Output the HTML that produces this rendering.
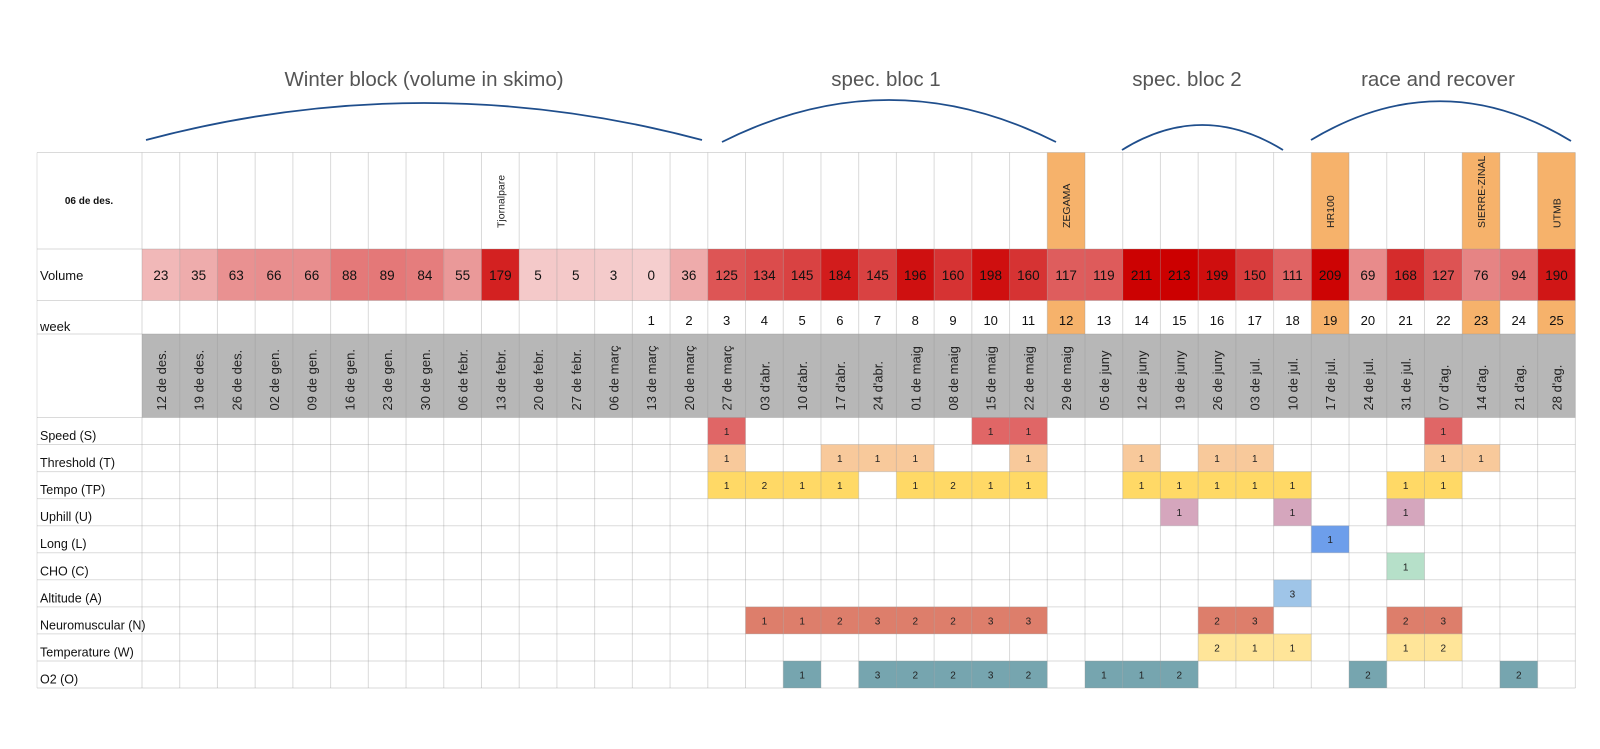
<!DOCTYPE html>
<html><head><meta charset="utf-8"><style>
body{margin:0;background:#fff;width:1600px;height:749px;overflow:hidden}
svg{display:block;font-family:"Liberation Sans",Arial,sans-serif}
</style></head><body>
<svg id="chart" width="1600" height="749" viewBox="0 0 1600 749" xmlns="http://www.w3.org/2000/svg">
<rect width="1600" height="749" fill="#fff"/>
<g id="titles" fill="#555" font-size="20.5" text-anchor="middle">
<text x="424" y="86">Winter block (volume in skimo)</text>
<text x="886" y="86">spec. bloc 1</text>
<text x="1187" y="86">spec. bloc 2</text>
<text x="1438" y="86">race and recover</text>
</g>
<g fill="none" stroke="#1f4e8c" stroke-width="1.8">
<path d="M146,140 Q424,66 702,140"/>
<path d="M722,142 Q889,58 1056,142"/>
<path d="M1122,150 Q1202,100 1283,150"/>
<path d="M1311,140 Q1441,62 1571,141"/>
</g>
<g id="grid"></g>
</svg>
<script>
const dates=["12 de des.","19 de des.","26 de des.","02 de gen.","09 de gen.","16 de gen.","23 de gen.","30 de gen.","06 de febr.","13 de febr.","20 de febr.","27 de febr.","06 de març","13 de març","20 de març","27 de març","03 d'abr.","10 d'abr.","17 d'abr.","24 d'abr.","01 de maig","08 de maig","15 de maig","22 de maig","29 de maig","05 de juny","12 de juny","19 de juny","26 de juny","03 de jul.","10 de jul.","17 de jul.","24 de jul.","31 de jul.","07 d'ag.","14 d'ag.","21 d'ag.","28 d'ag."];
const volume=[23,35,63,66,66,88,89,84,55,179,5,5,3,0,36,125,134,145,184,145,196,160,198,160,117,119,211,213,199,150,111,209,69,168,127,76,94,190];
const weeks=["","","","","","","","","","","","","","1","2","3","4","5","6","7","8","9","10","11","12","13","14","15","16","17","18","19","20","21","22","23","24","25"];
const races={9:"Tjornalpare",24:"ZEGAMA",31:"HR100",35:"SIERRE-ZINAL",37:"UTMB"};
const raceHighlight=[24,31,35,37];
const actLabels=["Speed (S)","Threshold (T)","Tempo (TP)","Uphill (U)","Long (L)","CHO (C)","Altitude (A)","Neuromuscular (N)","Temperature (W)","O2 (O)"];
const actColors=["#e06666","#f8c99b","#ffd966","#d5a6bd","#6d9eeb","#b6e0c9","#9fc5e8","#dd7e6b","#ffe599","#76a5af"];
const speed={15:1,22:1,23:1,34:1};
const threshold={15:1,18:1,19:1,20:1,23:1,26:1,28:1,29:1,34:1,35:1};
const tempo={15:1,16:2,17:1,18:1,20:1,21:2,22:1,23:1,26:1,27:1,28:1,29:1,30:1,33:1,34:1};
const uphill={27:1,30:1,33:1};
const longRun={31:1};
const cho={33:1};
const altitude={30:3};
const neuro={16:1,17:1,18:2,19:3,20:2,21:2,22:3,23:3,28:2,29:3,33:2,34:3};
const temperature={28:2,29:1,30:1,33:1,34:2};
const o2={17:1,19:3,20:2,21:2,22:3,23:2,25:1,26:1,27:2,32:2,36:2};
const acts=[speed,threshold,tempo,uphill,longRun,cho,altitude,neuro,temperature,o2];

const NS="http://www.w3.org/2000/svg";
const g=document.getElementById('grid');
const X0=142,CW=37.72,LX=37;
const colX=i=>X0+i*CW;
const rowY=[152.5,249,300.5,334,417.5];
const AH=27.05;
const actY=i=>417.5+i*AH;
const END=actY(10);
const RIGHT=colX(38);
function el(t,a){const e=document.createElementNS(NS,t);for(const k in a)e.setAttribute(k,a[k]);g.appendChild(e);return e;}
function volColor(v){const t=Math.max(0,Math.min(1,v/213));const c0=[245,206,206],c1=[204,0,0];return `rgb(${c0.map((c,i)=>Math.round(c+(c1[i]-c)*t)).join(',')})`;}
// gray date row
let r=el('rect',{x:X0,y:rowY[3],width:RIGHT-X0,height:rowY[4]-rowY[3],fill:'#b7b7b7'});

for(let i=0;i<38;i++){
  const x=colX(i),cx=x+CW/2;
  if(raceHighlight.includes(i)){
    let h=el('rect',{x:x,y:rowY[0],width:CW,height:rowY[1]-rowY[0],fill:'#f6b26b'});
    
    let w=el('rect',{x:x,y:rowY[2],width:CW,height:rowY[3]-rowY[2],fill:'#f6b26b'});
    
  }
  if(races[i]){
    let t=el('text',{x:0,y:0,'font-size':10.5,fill:'#222',transform:`translate(${cx+4},${rowY[1]-21}) rotate(-90)`});
    t.textContent=races[i];
  }
  let v=el('rect',{x:x,y:rowY[1],width:CW,height:rowY[2]-rowY[1],fill:volColor(volume[i])});
  
  let vt=el('text',{x:cx,y:(rowY[1]+rowY[2])/2+5,'font-size':13.5,'text-anchor':'middle',fill:'#111'});
  vt.textContent=volume[i];
  if(weeks[i]){let wt=el('text',{x:cx,y:rowY[3]-9,'font-size':13,'text-anchor':'middle',fill:'#111'});
    wt.textContent=weeks[i];}
  let dt=el('text',{x:0,y:0,'font-size':13,fill:'#222',transform:`translate(${cx+5},${rowY[4]-7}) rotate(-90)`});
  dt.textContent=dates[i];
  for(let a=0;a<acts.length;a++){
    const val=acts[a][i];
    if(val){
      let c=el('rect',{x:x,y:actY(a),width:CW,height:AH,fill:actColors[a]});
      
      let ct=el('text',{x:cx,y:actY(a)+AH/2+4,'font-size':10,'text-anchor':'middle',fill:'#222'});
      ct.textContent=val;
    }
  }
}
// grid lines
for(let i=0;i<=38;i++){let l=el('line',{x1:colX(i),y1:rowY[0],x2:colX(i),y2:END,stroke:'rgba(150,150,150,0.35)','stroke-width':1});}
el('line',{x1:LX,y1:rowY[0],x2:LX,y2:END,stroke:'#e3e3e3'});
const hy=[...rowY];for(let a=1;a<=10;a++)hy.push(actY(a));
hy.forEach(y=>el('line',{x1:LX,y1:y,x2:RIGHT,y2:y,stroke:'rgba(150,150,150,0.35)','stroke-width':1}));
// labels
let hd=el('text',{x:89,y:204,'font-size':10,'font-weight':'bold','text-anchor':'middle',fill:'#111'});
hd.textContent="06  de des.";
let vl=el('text',{x:LX+3,y:280,'font-size':13,fill:'#111'});vl.textContent="Volume";

let wl=el('text',{x:LX+3,y:331,'font-size':13,fill:'#111'});wl.textContent="week";

actLabels.forEach((s,a)=>{let t=el('text',{x:LX+3,y:actY(a)+AH/2+9,'font-size':12.5,fill:'#111'});t.textContent=s;
  });
</script>
</body></html>
